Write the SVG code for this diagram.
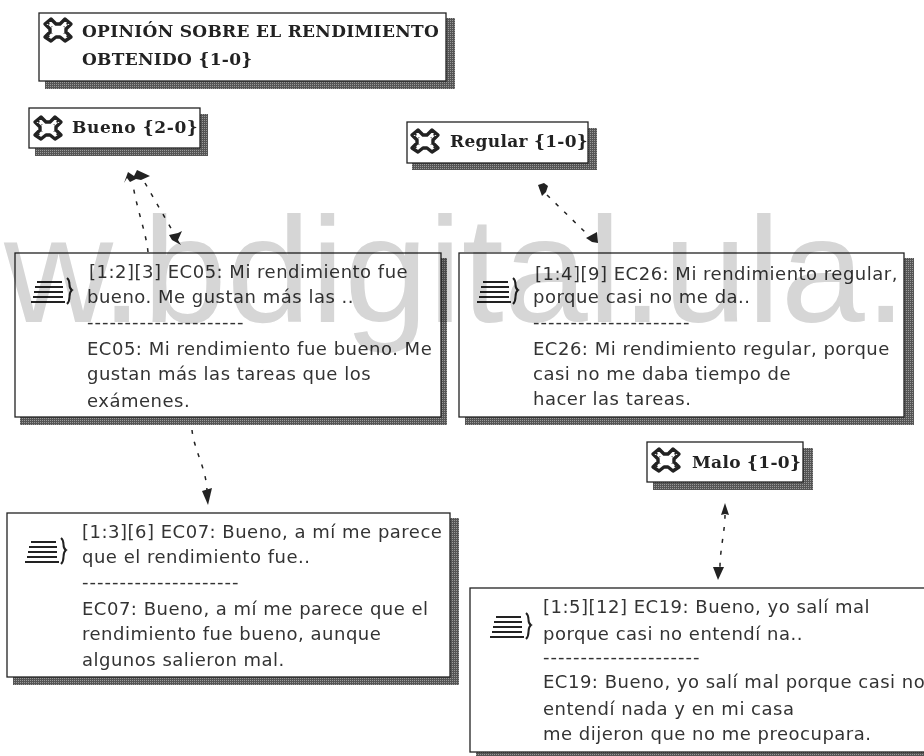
<svg xmlns="http://www.w3.org/2000/svg" width="924" height="756" viewBox="0 0 924 756">
<style>
.wm{font:151px "Liberation Sans",Arial,sans-serif;fill:#d6d6d6;mix-blend-mode:multiply}
.box{fill:#fff;stroke:#222;stroke-width:1.3}
.sh{fill:url(#dith)}
.t{font:18px "DejaVu Sans","Liberation Sans",sans-serif;fill:#333;letter-spacing:.5px}
.d{font:18px "DejaVu Sans","Liberation Sans",sans-serif;fill:#333;letter-spacing:1px}
.h{font:bold 17px "DejaVu Serif","Liberation Serif",serif;fill:#222;letter-spacing:.3px}
.c{fill:none;stroke:#222;stroke-width:1.5;stroke-dasharray:4 8}
.a{fill:#222}
.ic{fill:none;stroke:#222;stroke-width:2}
.st{fill:#fff;stroke:#222;stroke-width:3.4;stroke-linejoin:round}
.dots{fill:none;stroke:#222;stroke-width:1.6;stroke-dasharray:2 3}
</style>
<defs>
<pattern id="dith" width="2" height="2" patternUnits="userSpaceOnUse"><rect width="2" height="2" fill="#555"/><rect width="1" height="1" fill="#999"/></pattern>
<g id="star"><path class="st" d="M-13-6-7-11-2-6H2L7-11 13-6 8-1V2L13 7 7 11 2 7H-2L-7 11-13 7-8 2V-1Z"/><path class="dots" d="M-10-7-6-3M10-7 6-3M-10 7-6 3M10 7 6 3"/></g>
<g id="doc"><path class="ic" d="M-15-10H10M-17-5H11M-18 0H11M-19 5H11M-21 10H13M15-14C20-10 15-5 20-2 15 2 20 7 15 12"/></g>
</defs>
<g id="connectors">
<path class="c" d="M148 252C146 232 137 210 133 185"/>
<path class="c" d="M145 183 172 230"/>
<path class="c" d="M547 195 586 233"/>
<path class="c" d="M192 430C194 450 207 470 207 492"/>
<path class="c" d="M725 515C725 530 720 550 720 567"/>
<path class="a" d="M124 183 128 172 134 176 137 170 150 176 141 180 136 179 130 182 127 178Z"/>
<path class="a" d="M169 235 178 233 182 231 178 240 181 245 172 240Z"/>
<path class="a" d="M538 185 544 183 548 186 546 192 542 196Z"/>
<path class="a" d="M586 238 597 232 598 243 592 242Z"/>
<path class="a" d="M202 491 212 488 208 505Z"/>
<path class="a" d="M725 503 729 515 725 514 721 515Z"/>
<path class="a" d="M713 567 724 567 718 580Z"/>
</g>
<g id="n-opinion">
<rect class="sh" x="45" y="18" width="410" height="71"/><rect class="box" x="39" y="13" width="407" height="68"/>
<use href="#star" x="58" y="30"/>
<text class="h" x="82" y="37">OPINIÓN SOBRE EL RENDIMIENTO</text><text class="h" x="82" y="65">OBTENIDO {1-0}</text>
</g>
<g id="n-bueno">
<rect class="sh" x="35" y="114" width="173" height="42"/><rect class="box" x="29" y="108" width="171" height="40"/>
<use href="#star" x="48" y="128"/>
<text class="h" x="72" y="133" style="letter-spacing:.6px">Bueno {2-0}</text>
</g>
<g id="n-regular">
<rect class="sh" x="412" y="128" width="185" height="42"/><rect class="box" x="407" y="122" width="181" height="41"/>
<use href="#star" x="425" y="141"/>
<text class="h" x="450" y="147">Regular {1-0}</text>
</g>
<g id="n-malo">
<rect class="sh" x="653" y="448" width="160" height="42"/><rect class="box" x="647" y="442" width="156" height="40"/>
<use href="#star" x="666" y="460"/>
<text class="h" x="692" y="468">Malo {1-0}</text>
</g>
<g id="n-q1">
<rect class="sh" x="20" y="258" width="427" height="167"/><rect class="box" x="15" y="253" width="426" height="164"/>
<use href="#doc" x="52" y="292"/>
<text class="t"><tspan x="89" y="278">[1:2][3] EC05: Mi rendimiento fue</tspan><tspan x="87" y="303">bueno. Me gustan más las ..</tspan><tspan class="d" x="87" y="328">---------------------</tspan><tspan x="87" y="355">EC05: Mi rendimiento fue bueno. Me</tspan><tspan x="87" y="380">gustan más las tareas que los</tspan><tspan x="87" y="407">exámenes.</tspan></text>
</g>
<g id="n-q2">
<rect class="sh" x="465" y="258" width="449" height="167"/><rect class="box" x="459" y="253" width="445" height="164"/>
<use href="#doc" x="498" y="292"/>
<text class="t"><tspan x="535" y="280">[1:4][9] EC26: Mi rendimiento regular,</tspan><tspan x="533" y="303">porque casi no me da..</tspan><tspan class="d" x="533" y="328">---------------------</tspan><tspan x="533" y="355">EC26: Mi rendimiento regular, porque</tspan><tspan x="533" y="380">casi no me daba tiempo de</tspan><tspan x="533" y="405">hacer las tareas.</tspan></text>
</g>
<g id="n-q3">
<rect class="sh" x="13" y="518" width="446" height="167"/><rect class="box" x="7" y="513" width="443" height="164"/>
<use href="#doc" x="46" y="552"/>
<text class="t"><tspan x="82" y="538">[1:3][6] EC07: Bueno, a mí me parece</tspan><tspan x="82" y="563">que el rendimiento fue..</tspan><tspan class="d" x="82" y="588">---------------------</tspan><tspan x="82" y="615">EC07: Bueno, a mí me parece que el</tspan><tspan x="82" y="640">rendimiento fue bueno, aunque</tspan><tspan x="82" y="666">algunos salieron mal.</tspan></text>
</g>
<g id="n-q4">
<rect class="sh" x="476" y="593" width="460" height="163"/><rect class="box" x="470" y="588" width="460" height="164"/>
<use href="#doc" x="511" y="627"/>
<text class="t"><tspan x="543" y="613">[1:5][12] EC19: Bueno, yo salí mal</tspan><tspan x="543" y="640">porque casi no entendí na..</tspan><tspan class="d" x="543" y="663">---------------------</tspan><tspan x="543" y="688">EC19: Bueno, yo salí mal porque casi no</tspan><tspan x="543" y="715">entendí nada y en mi casa</tspan><tspan x="543" y="740">me dijeron que no me preocupara.</tspan></text>
</g>
<text class="wm" x="4" y="322">w<tspan dx="-4">.bdigital.ula.</tspan></text>
</svg>
